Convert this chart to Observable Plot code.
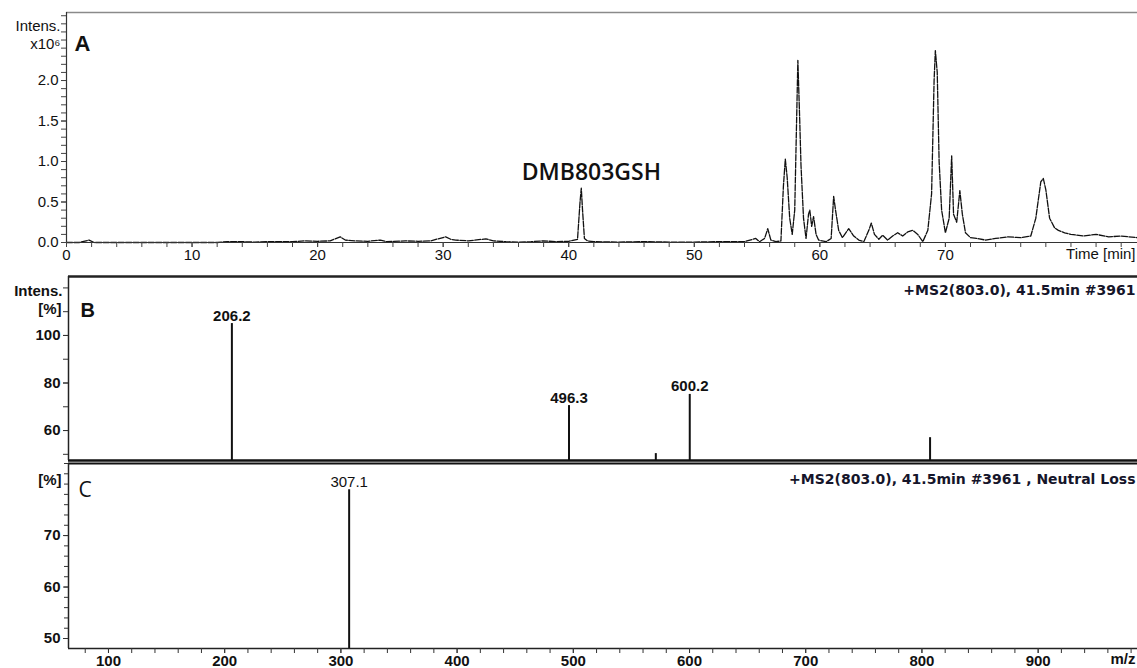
<!DOCTYPE html>
<html><head><meta charset="utf-8">
<script src="https://cdn.jsdelivr.net/npm/d3@7"></script>
<script src="https://cdn.jsdelivr.net/npm/@observablehq/plot@0.6"></script>
<style>
html,body{margin:0;padding:0;background:#fff;}
#chart{width:1137px;height:668px;overflow:hidden;position:relative;background:#fff;}
#chart svg{display:block;}
</style></head><body><div id="chart"></div>
<script>
// ---------- Panel A: chromatogram ----------
const chromTime = [0,1,1.8,2.2,5,8,10,12,12.8,14,15,16,18,19,20,21,21.8,22.2,23,24,25,25.5,27,28,29,30.2,30.6,31,32,33.4,34,35,36,37,38,39,40,40.7,40.9,41.0,41.1,41.25,41.5,42,44,46,48,50,52,54,54.9,55.2,55.6,55.85,56.1,56.5,56.9,57.1,57.25,57.4,57.6,57.8,58.0,58.25,58.4,58.5,58.7,58.9,59.1,59.2,59.35,59.5,59.7,59.9,60.5,60.9,61.1,61.25,61.5,61.8,62.3,62.7,63.1,63.5,63.9,64.1,64.35,64.7,65.0,65.4,65.8,66.2,66.6,67.0,67.4,67.8,68.2,68.6,68.9,69.1,69.2,69.35,69.5,69.7,70.0,70.3,70.5,70.65,70.9,71.15,71.35,71.6,72.0,72.5,73.2,74,75,76,76.8,77.2,77.6,77.8,78.0,78.3,78.7,79.0,79.5,80,81,82,83,84,85.3];
const chromIntensity = [0,0,0.03,0,0,0,0,0,0.01,0.01,0.005,0.01,0.01,0.02,0.015,0.02,0.07,0.03,0.02,0.015,0.03,0.01,0.02,0.015,0.02,0.07,0.04,0.03,0.02,0.045,0.02,0.01,0.005,0.01,0.02,0.01,0.015,0.04,0.5,0.67,0.4,0.05,0.02,0.01,0.005,0.01,0.005,0.005,0.01,0.01,0.05,0.01,0.05,0.17,0.03,0.01,0.02,0.7,1.03,0.8,0.3,0.1,0.4,2.25,1.5,0.95,0.3,0.05,0.35,0.40,0.2,0.32,0.1,0.03,0.01,0.05,0.57,0.4,0.15,0.06,0.17,0.08,0.03,0.01,0.15,0.24,0.1,0.04,0.09,0.03,0.08,0.12,0.08,0.13,0.15,0.1,0.01,0.15,0.6,2.0,2.37,2.1,1.0,0.4,0.12,0.3,1.07,0.35,0.25,0.64,0.35,0.12,0.06,0.05,0.03,0.05,0.07,0.06,0.08,0.3,0.75,0.79,0.65,0.3,0.18,0.15,0.12,0.1,0.08,0.1,0.07,0.08,0.06];
const timeTicks = [0,10,20,30,40,50,60,70];
const timeMinorTicks = d3.range(0, 86, 2);
const intensTicks = [0,0.5,1.0,1.5,2.0];
const intensMinorTicks = d3.range(0, 2.85, 0.1);
const annotLabel = ["DMB803GSH"];
const annotTime = [41.8];
const annotIntensity = [0.86];

// ---------- Panel B: MS2 spectrum ----------
const msB_mz = [206.2, 496.3, 571.0, 600.2, 807.0];
const msB_int = [105.0, 70.5, 50.3, 75.2, 57.0];
const msB_labels = ["206.2", "496.3", "", "600.2", ""];
const pctTicksB = [60, 80, 100];
const pctMinorB = [50, 60, 70, 80, 90, 100, 110, 120];

// ---------- Panel C: neutral loss spectrum ----------
const msC_mz = [307.1];
const msC_int = [78.9];
const msC_labels = ["307.1"];
const pctTicksC = [50, 60, 70];
const pctMinorC = d3.range(50, 85, 2);
const mzTicks = [100,200,300,400,500,600,700,800,900];
const mzMinorTicks = d3.range(80, 990, 20);

const W = 1137;
const sans = "'Liberation Sans', Arial, Helvetica, sans-serif";
const titleFont = "'DejaVu Sans', Verdana, sans-serif";
const human = "'Open Sans', 'Noto Sans', sans-serif";
const root = document.getElementById("chart");

const chrom = chromTime.map((t, i) => ({t, v: chromIntensity[i]}));
const annot = annotLabel.map((s, i) => ({s, t: annotTime[i], v: annotIntensity[i]}));
const yTopA = 2.84;

const plotA = Plot.plot({
  width: W, height: 268, marginTop: 12, marginBottom: 26, marginLeft: 66, marginRight: 0,
  x: {domain: [0, 85.3]},
  y: {domain: [0, yTopA]},
  style: {fontFamily: sans, fontSize: "15px", background: "white", color: "#111", overflow: "visible"},
  marks: [
    Plot.line(chrom, {x: "t", y: "v", stroke: "#111", strokeWidth: 1.3, strokeDasharray: "6,1.5"}),
    Plot.ruleY([0], {stroke: "#333", strokeWidth: 1.2}),
    Plot.ruleY([yTopA], {stroke: "#8a8a8a", strokeWidth: 1.6}),
    Plot.ruleX([0], {stroke: "#333", strokeWidth: 1.2}),
    Plot.axisX({ticks: timeMinorTicks, tickSize: 5, text: null, label: null, stroke: "#444"}),
    Plot.axisX({ticks: timeTicks, tickSize: 5, tickPadding: 2, label: null, stroke: "#444", fontSize: 15}),
    Plot.axisY({ticks: intensMinorTicks, tickSize: 5, text: null, label: null, stroke: "#444"}),
    Plot.axisY({ticks: intensTicks, tickSize: 5, tickPadding: 3, tickFormat: d3.format(".1f"), label: null, stroke: "#444", fontSize: 15}),
    Plot.text(["Intens."], {frameAnchor: "top-left", dx: -6, dy: 8, textAnchor: "end", fontSize: 15}),
    Plot.text(["x10⁶"], {frameAnchor: "top-left", dx: -6, dy: 26, textAnchor: "end", fontSize: 15}),
    Plot.text(["A"], {frameAnchor: "top-left", dx: 8, dy: 23, textAnchor: "start", fontSize: 22, fontWeight: "bold"}),
    Plot.text(["Time [min]"], {frameAnchor: "bottom-right", dx: -2, dy: 16, textAnchor: "end", fontSize: 15}),
    Plot.text(annot, {x: "t", y: "v", text: "s", fontFamily: human, fontWeight: 600, fontSize: 23})
  ]
});
root.appendChild(plotA);

const specB = msB_mz.map((m, i) => ({mz: m, v: msB_int[i], label: msB_labels[i]}));
const yB = [47.4, 124.8];
const xMZ = [65.6, 985.5];
const plotB = Plot.plot({
  width: W, height: 194, marginTop: 8, marginBottom: 2, marginLeft: 68, marginRight: 0,
  x: {domain: xMZ, axis: null}, y: {domain: yB},
  style: {fontFamily: sans, fontSize: "15px", background: "white", color: "#111", overflow: "visible"},
  marks: [
    Plot.ruleX(specB, {x: "mz", y1: yB[0], y2: "v", stroke: "#111", strokeWidth: 2}),
    Plot.text(specB, {x: "mz", y: "v", text: "label", dy: -3, lineAnchor: "bottom", fontWeight: "bold", fontSize: 15}),
    Plot.ruleY([yB[1]], {stroke: "#222", strokeWidth: 2.5}),
    Plot.ruleY([yB[0]], {stroke: "#111", strokeWidth: 2.5}),
    Plot.ruleX([xMZ[0]], {stroke: "#222", strokeWidth: 1.5}),
    Plot.axisY({ticks: pctMinorB, tickSize: 5, text: null, label: null, stroke: "#333"}),
    Plot.axisY({ticks: pctTicksB, tickSize: 5, tickPadding: 3, label: null, stroke: "#333", fontWeight: "bold", fontSize: 15}),
    Plot.text(["Intens."], {frameAnchor: "top-left", dx: -6, dy: 9, textAnchor: "end", fontSize: 15, fontWeight: "bold"}),
    Plot.text(["[%]"], {frameAnchor: "top-left", dx: -7, dy: 27, textAnchor: "end", fontSize: 15, fontWeight: "bold"}),
    Plot.text(["B"], {frameAnchor: "top-left", dx: 12, dy: 26, textAnchor: "start", fontSize: 20, fontWeight: "bold"}),
    Plot.text(["+MS2(803.0), 41.5min #3961"], {frameAnchor: "top-right", dx: -2, dy: 9, textAnchor: "end", fontFamily: titleFont, fontSize: 14, fontWeight: "bold", fill: "#15152a"})
  ]
});
root.appendChild(plotB);

const specC = msC_mz.map((m, i) => ({mz: m, v: msC_int[i], label: msC_labels[i]}));
const yC = [48.06, 84];
const plotC = Plot.plot({
  width: W, height: 208, marginTop: 1, marginBottom: 22, marginLeft: 68, marginRight: 0,
  x: {domain: xMZ}, y: {domain: yC},
  style: {fontFamily: sans, fontSize: "15px", background: "white", color: "#111", overflow: "visible"},
  marks: [
    Plot.ruleX(specC, {x: "mz", y1: yC[0], y2: "v", stroke: "#111", strokeWidth: 2}),
    Plot.text(specC, {x: "mz", y: "v", text: "label", dy: -3, lineAnchor: "bottom", fontSize: 15}),
    Plot.ruleY([yC[1]], {stroke: "#111", strokeWidth: 2}),
    Plot.ruleY([yC[0]], {stroke: "#222", strokeWidth: 1.5}),
    Plot.ruleX([xMZ[0]], {stroke: "#222", strokeWidth: 1.5}),
    Plot.axisY({ticks: pctMinorC, tickSize: 4, text: null, label: null, stroke: "#333"}),
    Plot.axisY({ticks: pctTicksC, tickSize: 5, tickPadding: 3, label: null, stroke: "#333", fontWeight: "bold", fontSize: 15}),
    Plot.axisX({ticks: mzMinorTicks, tickSize: 5, text: null, label: null, stroke: "#333"}),
    Plot.axisX({ticks: mzTicks, tickSize: 5, tickPadding: 2, label: null, stroke: "#333", fontWeight: "bold", fontSize: 15}),
    Plot.text(["[%]"], {frameAnchor: "top-left", dx: -7, dy: 11, textAnchor: "end", fontSize: 15, fontWeight: "bold"}),
    Plot.text(["C"], {frameAnchor: "top-left", dx: 10, dy: 19, textAnchor: "start", fontFamily: human, fontSize: 21}),
    Plot.text(["+MS2(803.0), 41.5min #3961 , Neutral Loss"], {frameAnchor: "top-right", dx: -2, dy: 11, textAnchor: "end", fontFamily: titleFont, fontSize: 14, fontWeight: "bold", fill: "#15152a"}),
    Plot.text(["m/z"], {frameAnchor: "bottom-right", dx: -2, dy: 15, textAnchor: "end", fontSize: 15, fontWeight: "bold"})
  ]
});
root.appendChild(plotC);
</script></body></html>
